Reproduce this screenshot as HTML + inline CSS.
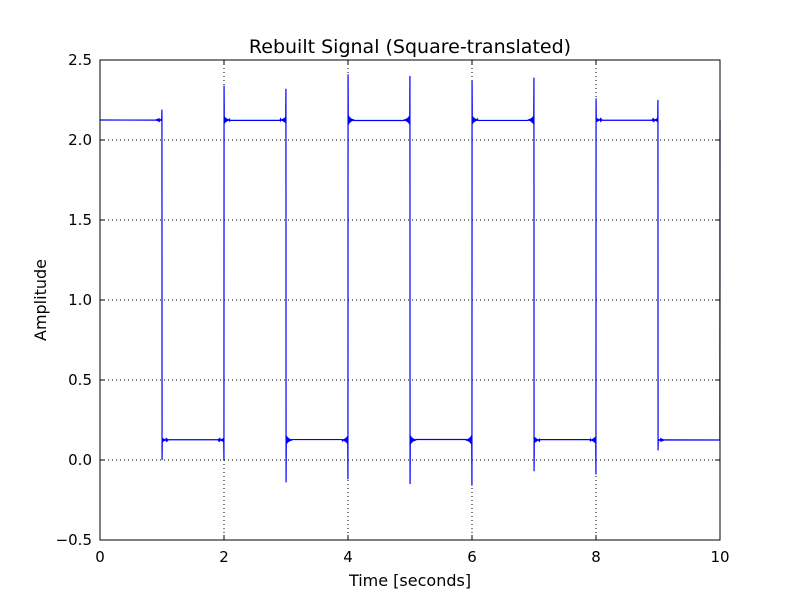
<!DOCTYPE html>
<html><head><meta charset="utf-8"><style>
body{margin:0;background:#fff;}
svg{display:block;font-family:"DejaVu Sans","Liberation Sans",sans-serif;}
</style></head><body>
<svg id="chart" width="800" height="600">
<rect width="800" height="600" fill="#fff"/>
<g id="grid"></g>
<g id="series"></g>
<rect x="100" y="60" width="620" height="480" fill="none" stroke="#000" stroke-width="1"/>
<g id="ticks"></g>
<text x="410" y="53" text-anchor="middle" font-size="19">Rebuilt Signal (Square-translated)</text>
<text x="410" y="586" text-anchor="middle" font-size="16">Time [seconds]</text>
<text x="46" y="300" text-anchor="middle" font-size="16" transform="rotate(-90 46 300)">Amplitude</text>
</svg>
<script>
const xTicks=[0,2,4,6,8,10];
const yTicks=[-0.5,0.0,0.5,1.0,1.5,2.0,2.5];
const yTickLabels=["\u22120.5","0.0","0.5","1.0","1.5","2.0","2.5"];
const segmentLevels=[2.125,0.125,2.125,0.125,2.125,0.125,2.125,0.125,2.125,0.125];
const transitionTimes=[1,2,3,4,5,6,7,8,9];
const spikeMax=[2.19,2.34,2.32,2.41,2.40,2.37,2.39,2.26,2.25];
const spikeMin=[0.0,0.0,-0.14,-0.12,-0.15,-0.16,-0.07,-0.09,0.06];
const endValue=2.125;

const X0=100,X1=720,Y0=540,Y1=60;
const xs=v=>X0+(v-0)/(10-0)*(X1-X0);
const ys=v=>Y0-(v+0.5)/3*(Y0-Y1);
const NS="http://www.w3.org/2000/svg";
const grid=document.getElementById('grid'),ticks=document.getElementById('ticks'),series=document.getElementById('series');
function mk(tag,attrs,parent){const e=document.createElementNS(NS,tag);for(const k in attrs)e.setAttribute(k,attrs[k]);parent.appendChild(e);return e;}
xTicks.forEach(t=>{
  const x=xs(t);
  if(t>0&&t<10){const g=mk('line',{x1:x,x2:x,y1:Y1,y2:Y0,stroke:'#000','stroke-dasharray':'1,3','stroke-width':1},grid);
  
  }
  const a=mk('line',{x1:x,x2:x,y1:Y0,y2:Y0-5,stroke:'#000'},ticks);
  
  
  const b=mk('line',{x1:x,x2:x,y1:Y1,y2:Y1+5,stroke:'#000'},ticks);
  
  
  const l=mk('text',{x:x,y:Y0+22,'text-anchor':'middle','font-size':15},ticks);
  l.textContent=String(t);
  
  
});
yTicks.forEach((t,i)=>{
  const y=ys(t);
  if(i>0&&i<yTicks.length-1){const g=mk('line',{x1:X0,x2:X1,y1:y,y2:y,stroke:'#000','stroke-dasharray':'1,3','stroke-width':1},grid);
  
  }
  const a=mk('line',{x1:X0,x2:X0+5,y1:y,y2:y,stroke:'#000'},ticks);
  
  
  const b=mk('line',{x1:X1,x2:X1-5,y1:y,y2:y,stroke:'#000'},ticks);
  
  
  const l=mk('text',{x:X0-8,y:y+5,'text-anchor':'end','font-size':15},ticks);
  l.textContent=yTickLabels[i];
  
  
});
// build signal path
let pts=[[0,segmentLevels[0]]];
transitionTimes.forEach((t,i)=>{
  const L0=segmentLevels[i],L1=segmentLevels[i+1];
  const high0=L0>L1;
  const pre=high0?spikeMax[i]:spikeMin[i];
  const post=high0?spikeMin[i]:spikeMax[i];
  const a0=pre-L0,a1=post-L1;
  const N=24;
  for(let k=N;k>=1;k--){const s=(k%2?1:-1);pts.push([t-k*0.004,L0+s*a0*0.12*Math.exp(-k/10)]);}
  pts.push([t-0.001,pre]);pts.push([t+0.001,post]);
  for(let k=1;k<=N;k++){const s=(k%2?1:-1);pts.push([t+k*0.004,L1+s*a1*0.12*Math.exp(-k/10)]);}
});
pts.push([9.998,segmentLevels[segmentLevels.length-1]]);
pts.push([10,endValue]);
const d=pts.map((p,i)=>(i?'L':'M')+xs(p[0]).toFixed(2)+','+ys(p[1]).toFixed(2)).join('');
const path=mk('path',{d:d,fill:'none',stroke:'#0000ff','stroke-width':1.2},series);


</script>
</body></html>
